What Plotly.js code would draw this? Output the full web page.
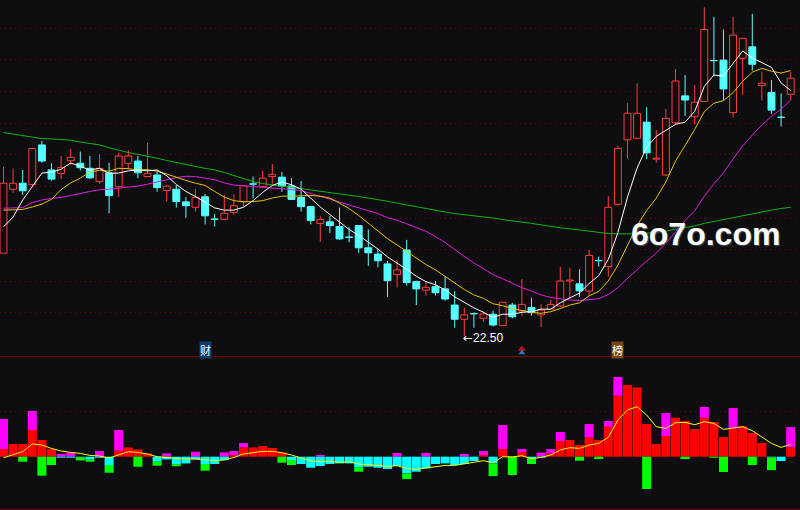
<!DOCTYPE html>
<html><head><meta charset="utf-8">
<script src="https://cdn.plot.ly/plotly-3.0.1.min.js"></script>
<style>html,body{margin:0;padding:0;background:#0e0e11;overflow:hidden}#chart{width:800px;height:510px}</style>
</head><body><div id="chart"></div>
<script>
// ---- daily OHLC ----
const opens = [25.14,27.16,27.35,27.31,28.56,27.77,27.66,28.06,27.98,27.82,
27.40,27.68,27.24,27.98,28.05,27.56,27.61,27.12,27.16,26.76,
26.59,26.92,26.22,26.21,26.43,26.77,27.33,27.24,27.56,27.54,
27.26,26.90,26.61,26.08,26.13,25.98,25.65,26.01,25.31,25.11,
24.80,24.46,25.24,24.24,23.97,24.08,24.01,23.50,23.05,23.23,
23.08,23.21,22.85,23.50,23.31,23.42,23.19,23.37,23.47,24.26,
24.17,23.94,24.91,24.72,26.68,28.72,28.77,29.28,28.11,27.61,
29.26,30.11,29.45,29.93,31.23,31.24,29.58,31.30,31.66,30.44,
30.22,29.44,30.16];
const highs = [27.87,27.82,27.77,28.45,28.69,27.98,28.21,28.43,28.35,28.21,
28.27,28.00,28.31,28.40,28.21,28.63,27.75,27.29,27.29,26.91,
27.16,27.01,26.38,26.98,27.01,27.29,27.56,27.75,27.96,27.71,
27.51,27.42,26.63,26.31,26.31,26.58,25.96,26.01,25.89,25.29,
24.89,24.92,25.56,24.27,24.22,24.26,24.40,23.94,23.42,23.27,
23.29,23.32,23.59,23.57,24.32,23.73,23.53,23.66,24.71,24.68,
24.63,25.24,25.03,26.95,28.53,29.88,30.51,29.75,29.03,29.70,
30.96,30.77,30.45,32.91,32.61,32.21,32.61,31.93,32.70,30.87,
30.61,30.19,30.87];
const lows = [25.14,27.05,26.98,27.24,28.00,27.43,27.48,27.93,27.75,27.48,
27.33,26.40,26.92,27.79,27.51,27.54,27.08,26.77,26.58,26.26,
26.45,26.05,25.98,26.21,26.35,26.61,26.87,27.22,27.33,27.08,
26.82,26.45,26.05,25.50,25.77,25.56,25.48,25.15,24.74,24.69,
23.76,24.05,24.11,23.50,23.80,23.80,23.64,22.78,22.50,22.78,
22.97,22.82,22.85,23.08,23.16,23.16,22.80,23.37,23.43,23.73,
23.76,23.79,24.71,24.40,26.64,28.12,28.74,28.11,28.00,27.58,
29.21,29.47,29.22,29.93,30.72,29.98,29.43,30.14,30.91,29.96,
29.54,29.14,29.98];
const closes = [27.35,27.35,27.11,28.45,28.05,27.48,27.85,28.17,27.84,27.52,
27.82,26.96,28.21,28.21,27.68,27.66,27.21,27.26,26.77,26.64,
26.90,26.32,26.21,26.40,26.64,27.27,27.32,27.51,27.63,27.26,
26.84,26.61,26.17,26.20,26.01,25.59,25.64,25.31,25.15,24.90,
24.27,24.61,24.21,24.01,24.06,23.89,23.69,23.05,23.19,23.22,
23.22,22.87,23.59,23.13,23.52,23.26,23.34,23.52,24.26,24.29,
23.95,25.07,24.90,26.59,28.45,29.56,29.56,28.31,28.14,29.40,
30.58,29.98,29.91,32.21,31.22,30.33,32.03,31.93,31.11,30.51,
29.66,29.43,30.67];

// ---- moving averages ----
const ma5 = [25.97,26.28,26.82,27.26,27.67,27.70,27.79,27.99,27.89,27.77,
27.82,27.66,27.67,27.74,27.77,27.74,27.77,27.59,27.31,27.09,
26.93,26.75,26.57,26.50,26.50,26.59,26.80,27.06,27.28,27.39,
27.30,27.16,26.88,26.60,26.36,26.11,25.89,25.70,25.49,25.27,
25.02,24.83,24.63,24.41,24.24,24.14,23.98,23.76,23.59,23.41,
23.27,23.11,23.21,23.21,23.27,23.29,23.37,23.37,23.57,23.72,
23.88,24.18,24.43,24.94,25.79,26.91,27.83,28.49,28.83,29.02,
29.21,29.28,29.62,30.41,30.77,30.74,31.14,31.53,31.31,31.17,
31.01,30.52,30.28];
const ma10 = [26.50,26.50,26.52,26.60,26.69,26.84,27.15,27.36,27.51,27.70,
27.76,27.73,27.82,27.81,27.77,27.78,27.73,27.64,27.53,27.44,
27.35,27.28,27.09,26.91,26.80,26.76,26.77,26.80,26.88,26.94,
26.94,26.96,26.96,26.94,26.88,26.72,26.55,26.33,26.09,25.86,
25.60,25.40,25.19,24.98,24.78,24.61,24.41,24.19,23.99,23.82,
23.71,23.54,23.48,23.39,23.33,23.27,23.24,23.29,23.39,23.50,
23.57,23.79,23.93,24.26,24.76,25.39,26.01,26.49,26.88,27.39,
28.05,28.54,29.05,29.61,29.88,29.96,30.21,30.57,30.86,30.98,
30.89,30.83,30.91];
const ma20 = [26.56,26.56,26.58,26.74,26.82,26.87,26.90,26.96,27.03,27.09,
27.14,27.16,27.19,27.23,27.26,27.32,27.39,27.47,27.53,27.57,
27.56,27.51,27.46,27.36,27.29,27.27,27.25,27.22,27.21,27.19,
27.15,27.12,27.03,26.93,26.84,26.74,26.66,26.56,26.48,26.39,
26.26,26.18,26.07,25.95,25.83,25.66,25.48,25.25,25.03,24.83,
24.65,24.46,24.33,24.18,24.05,23.94,23.82,23.74,23.69,23.66,
23.64,23.67,23.70,23.83,24.05,24.34,24.63,24.89,25.14,25.45,
25.81,26.17,26.48,26.94,27.33,27.68,28.12,28.53,28.87,29.19,
29.47,29.69,29.98];
const ma60 = [28.95,28.90,28.84,28.80,28.76,28.75,28.73,28.71,28.65,28.61,
28.56,28.47,28.39,28.32,28.26,28.21,28.14,28.07,28.00,27.94,
27.88,27.82,27.77,27.69,27.59,27.50,27.40,27.34,27.29,27.25,
27.22,27.18,27.14,27.09,27.06,27.03,26.98,26.93,26.88,26.84,
26.78,26.72,26.66,26.60,26.54,26.49,26.44,26.39,26.36,26.33,
26.30,26.25,26.20,26.17,26.12,26.08,26.03,25.98,25.94,25.91,
25.87,25.84,25.79,25.76,25.75,25.74,25.75,25.77,25.80,25.84,
25.89,25.94,26.00,26.08,26.14,26.20,26.27,26.33,26.39,26.46,
26.50,26.55,26.59];

// ---- lower indicator panel ----
const indRed = [7.7,12.7,12.7,26.7,16.7,7.7,0,0,0,0,
0,0,6,9.3,7.3,3.3,0,0,0,0,
0,0,0,0,1.7,9.3,9.3,10.7,8.7,4.3,
0,0,0,0,0,0,0,0,0,0,
0,0,0,0,0,0,0,0,0,0,
1.7,0,7.7,0.7,4.7,0,0,3.3,15.7,16.7,
11.7,19.3,16.7,30,61,71.7,69.3,32.7,12.7,20.7,
39,35.7,27.7,39,34.7,19.7,28.3,30.3,23.7,13.7,
0,0,9.3];
const indMagenta = [30,0,0,19,0,0,2.7,4,0,0,
5.7,0,20.7,0,0,0,0,3.3,0,0,
5,0,0,4.3,4,4.3,0,0,0,0,
0,0,0,1.7,0,0,0,0,0,0,
0,3.7,0,0,3.7,0,0,0,2.7,0,
4,0,24,0,3,0,4,4.3,9,0,
0,13.3,0,5.7,18.7,0,0,0,0,23,
0,0,0,10.7,0,0,20.3,0,0,0,
0,0,20.3];
const indCyan = [0,0,0,0,0,0,-1,-1,-0.7,-2.7,
-1,-8.3,0,0,0,0,-5,-2.7,-7.5,-6.7,
-2.7,-7.3,-7.3,-3.3,0,0,0,0,0,0,
-3.3,-7.3,-11,-9.3,-7.3,-6.7,-6.7,-10.7,-10,-11,
-12.3,-9.3,-16.7,-15,-11.7,-7.3,-6.7,-8.3,-7.3,-4.3,
0,-6.7,0,0,0,-2,-1,0,0,0,
0,0,0,0,0,0,0,0,0,0,
0,0,0,0,0,0,0,0,0,0,
-0.7,-4.3,0];
const indGreen = [0,0,-5,0,-19,-8.3,0,0,-3,-2.3,
0,-7.7,0,0,-10,0,-4,0,-2,0,
0,-6.7,0,0,0,0,0,0,0,-6,
-5,0,0,0,0,0,0,-4.3,0,0,
0,0,-5.7,0,0,0,0,0,0,0,
0,-12.7,0,-18.3,0,-5.3,0,0,0,0,
-4,0,-2.3,0,0,0,0,-32.3,0,0,
0,-2.3,0,0,-1,-15.3,0,0,-8.3,0,
-12.7,0,0];
const indLine = [-1,1.7,5,12.7,11.7,8.3,5.7,4.3,3.3,1.3,
0.7,-1.3,1.7,5,4.3,2.7,0,-0.7,-2,-2.3,
-2.3,-3.3,-4,-3.3,-0.7,2.7,4.3,5.3,5.3,4,
1.7,-1.3,-4.3,-4.7,-4.7,-5.7,-5,-7.3,-7.7,-8.7,
-9.7,-9,-11.7,-12.7,-11.3,-9.7,-8.7,-8.7,-7.3,-5.3,
-4,-6,0,-0.3,1,-2,-0.7,1.7,6.7,9,
8.3,11.7,13.3,19.3,36.7,46.7,50,41.7,30,28.3,
34,34.3,32,35,33.3,27.3,29,30,26,20,
13.3,9.3,12.3];

const lowIndex = 48;
const lowLabel = '22.50';
const eventMarks = [{idx: 21, text: '财', bg: '#0f3a6c'}, {idx: 64, text: '榜', bg: '#7a4512'}];
const iconIndex = 54;

// ---- build traces ----
const BG = '#0e0e11', RED = '#ff3b3b', CYAN = '#55ffff';
const PRICE_RANGE = [21.858, 33.14];
const n = closes.length;
const xs = Array.from({length: n}, (_, i) => i);
const up = xs.map(i => closes[i] >= opens[i]);

const bodyBase = xs.map(i => Math.min(opens[i], closes[i]));
const bodyH = xs.map(i => Math.max(Math.abs(closes[i] - opens[i]), 0.01));

function wick(flag) {
  const wx = [], wy = [];
  xs.forEach(i => {
    if (up[i] !== flag) return;
    const top = Math.max(opens[i], closes[i]), bot = Math.min(opens[i], closes[i]);
    if (highs[i] > top) { wx.push(i, i, null); wy.push(highs[i], top, null); }
    if (lows[i] < bot) { wx.push(i, i, null); wy.push(bot, lows[i], null); }
  });
  return {type: 'scatter', mode: 'lines', x: wx, y: wy, xaxis: 'x', yaxis: 'y',
    line: {color: flag ? RED : CYAN, width: 1}, hoverinfo: 'skip', showlegend: false};
}
const nz = a => a.map(v => (v === 0 ? null : v));

// small red/blue event icon below the price panel (offsets from the panel floor)
const pxPrice = (PRICE_RANGE[1] - PRICE_RANGE[0]) / 357;
const iconTrace = {type: 'scatter', mode: 'markers', x: [iconIndex, iconIndex],
  y: [PRICE_RANGE[0] + 8 * pxPrice, PRICE_RANGE[0] + 4.2 * pxPrice], yaxis: 'y',
  marker: {symbol: 'triangle-up', size: [7, 6], color: ['#ff1a1a', '#3aa8ff'], line: {width: 0}},
  hoverinfo: 'skip', showlegend: false, cliponaxis: false};

const traces = [
  {type: 'bar', x: xs, y: bodyH, base: bodyBase, width: 0.72, xaxis: 'x', yaxis: 'y',
   marker: {color: up.map(u => u ? BG : CYAN), line: {color: up.map(u => u ? RED : CYAN), width: 1}},
   hoverinfo: 'skip', showlegend: false},
  wick(true), wick(false),
  {type: 'scatter', mode: 'lines', x: xs, y: ma60, line: {color: '#12b412', width: 1}, yaxis: 'y', showlegend: false},
  {type: 'scatter', mode: 'lines', x: xs, y: ma20, line: {color: '#e01ce0', width: 1}, yaxis: 'y', showlegend: false},
  {type: 'scatter', mode: 'lines', x: xs, y: ma10, line: {color: '#e6c400', width: 1}, yaxis: 'y', showlegend: false},
  {type: 'scatter', mode: 'lines', x: xs, y: ma5, line: {color: '#ffffff', width: 1}, yaxis: 'y', showlegend: false},
  iconTrace,
  {type: 'bar', x: xs, y: nz(indRed), width: 0.94, yaxis: 'y2', marker: {color: '#ff0000', line: {width: 0}}, showlegend: false},
  {type: 'bar', x: xs, y: nz(indMagenta), width: 0.94, yaxis: 'y2', marker: {color: '#ff00ff', line: {width: 0}}, showlegend: false},
  {type: 'bar', x: xs, y: nz(indCyan), width: 0.94, yaxis: 'y2', marker: {color: '#00ffff', line: {width: 0}}, showlegend: false},
  {type: 'bar', x: xs, y: nz(indGreen), width: 0.94, yaxis: 'y2', marker: {color: '#00ff00', line: {width: 0}}, showlegend: false},
  {type: 'scatter', mode: 'lines', x: xs, y: indLine, yaxis: 'y2', line: {color: '#ffff00', width: 1}, showlegend: false}
];

// grid levels in the price panel
const gridVals = Array.from({length: 10}, (_, k) => 23.25 + k);
const GRID = '#7a0000';

const annotations = [
  {x: lowIndex, y: lows[lowIndex], xref: 'x', yref: 'y',
   text: '<span style="font-family:DejaVu Sans">←</span>' + lowLabel, showarrow: false,
   xanchor: 'left', yanchor: 'middle', xshift: -3, yshift: -1.5,
   font: {family: 'Liberation Sans, Arial, sans-serif', size: 12, color: '#ffffff'}},
  {x: 0.8813, y: 0.5402, xref: 'paper', yref: 'paper', xanchor: 'center', yanchor: 'middle',
   text: '<b>6o7o.com</b>', showarrow: false,
   font: {family: 'Liberation Sans, Arial, sans-serif', size: 32, color: '#ffffff',
          shadow: '1px 1px 1px #555555'}}
];
eventMarks.forEach(m => annotations.push({
  x: m.idx, y: 0.3147, xref: 'x', yref: 'paper', xanchor: 'center', yanchor: 'middle',
  text: m.text, showarrow: false, bgcolor: m.bg, borderpad: 0,
  font: {family: 'Noto Sans CJK SC, sans-serif', size: 11, color: '#ffffff'}
}));

const layout = {
  width: 800, height: 510, margin: {l: 0, r: 0, t: 0, b: 0},
  paper_bgcolor: BG, plot_bgcolor: BG, barmode: 'relative', showlegend: false,
  xaxis: {range: [-0.365, 82.97], showgrid: false, zeroline: false, showticklabels: false, showline: false, fixedrange: true},
  yaxis: {domain: [0.3, 1], range: PRICE_RANGE, tickvals: gridVals, showticklabels: false,
    showgrid: true, gridcolor: GRID, griddash: '1px,4px', gridwidth: 1, zeroline: false, fixedrange: true},
  yaxis2: {domain: [0, 0.3], range: [-53.3, 99.7], tickvals: [45.7], showticklabels: false,
    showgrid: true, gridcolor: GRID, griddash: '1px,4px', gridwidth: 1, zeroline: false, fixedrange: true},
  shapes: [
    {type: 'line', xref: 'paper', yref: 'paper', x0: 0, x1: 1, y0: 0.3007, y1: 0.3007, line: {color: '#800000', width: 1}},
    {type: 'line', xref: 'paper', yref: 'paper', x0: 0, x1: 1, y0: 0.001, y1: 0.001, line: {color: '#700000', width: 1}}
  ],
  annotations: annotations
};

Plotly.newPlot('chart', traces, layout, {staticPlot: true, displayModeBar: false});
</script></body></html>
